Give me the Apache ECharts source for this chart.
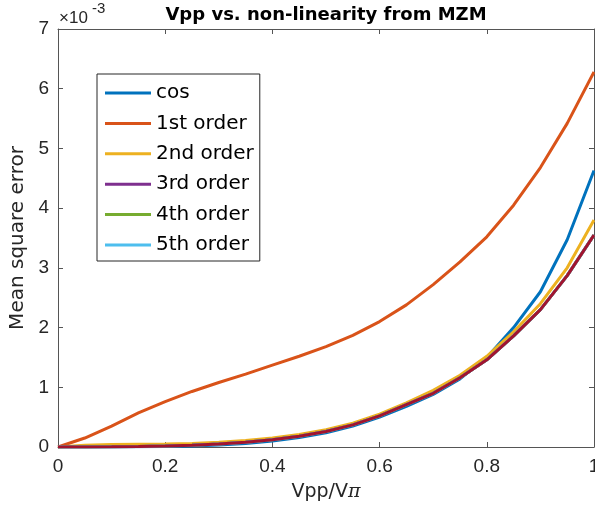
<!DOCTYPE html>
<html>
<head>
<meta charset="utf-8">
<script src="https://cdn.jsdelivr.net/npm/echarts@6/dist/echarts.min.js"></script>
<style>
  html, body { margin: 0; padding: 0; background: #fff; }
  #main { width: 595px; height: 512px; }
</style>
</head>
<body>
<div id="main"></div>
<script>
// Vpp / Vpi sweep
const xs = [0, 0.05, 0.1, 0.15, 0.2, 0.25, 0.3, 0.35, 0.4, 0.45, 0.5,
  0.55, 0.6, 0.65, 0.7, 0.75, 0.8, 0.85, 0.9, 0.95, 1.0];
// mean square error, units of 1e-3
const cosErr = [0, 0, 0.001, 0.003, 0.008, 0.018, 0.035, 0.06, 0.1, 0.16, 0.24,
  0.35, 0.5, 0.68, 0.88, 1.14, 1.5, 2.0, 2.6, 3.47, 4.63];
const order1 = [0, 0.15, 0.35, 0.57, 0.76, 0.93, 1.08, 1.22, 1.37, 1.52, 1.68,
  1.87, 2.1, 2.38, 2.72, 3.1, 3.52, 4.05, 4.68, 5.42, 6.28];
const order2 = [0, 0.03, 0.04, 0.045, 0.05, 0.06, 0.08, 0.11, 0.15, 0.21, 0.29,
  0.4, 0.55, 0.74, 0.95, 1.2, 1.52, 1.93, 2.4, 3.0, 3.8];
const order3 = [0, 0.002, 0.005, 0.01, 0.018, 0.03, 0.05, 0.08, 0.12, 0.18, 0.26,
  0.37, 0.52, 0.71, 0.9, 1.16, 1.46, 1.86, 2.3, 2.87, 3.55];
const order4 = [0, 0.002, 0.005, 0.01, 0.018, 0.03, 0.05, 0.08, 0.12, 0.18, 0.26,
  0.37, 0.52, 0.71, 0.9, 1.16, 1.46, 1.86, 2.3, 2.87, 3.55];
const order5 = [0, 0.002, 0.005, 0.01, 0.018, 0.03, 0.05, 0.08, 0.12, 0.18, 0.26,
  0.37, 0.52, 0.71, 0.9, 1.16, 1.46, 1.86, 2.3, 2.87, 3.55];
const data7 = [0, 0.002, 0.005, 0.01, 0.018, 0.03, 0.05, 0.08, 0.12, 0.18, 0.26,
  0.37, 0.52, 0.71, 0.9, 1.16, 1.46, 1.86, 2.3, 2.87, 3.55];

const names = ['cos', '1st order', '2nd order', '3rd order', '4th order', '5th order'];
const colors = ['#0072BD', '#D95319', '#EDB120', '#7E2F8E', '#77AC30', '#4DBEEE', '#A2142F'];

const FONT = 'Liberation Sans, Arial, sans-serif';
const WIDE = 'DejaVu Sans, sans-serif';
const axisCol = '#262626';
const lineCol = '#555';

function pairs(arr) {
  return xs.map((x, i) => [x, arr[i]]);
}

const allSeries = [cosErr, order1, order2, order3, order4, order5, data7].map((arr, i) => ({
  name: i < 6 ? names[i] : 'data7',
  type: 'line',
  data: pairs(arr),
  symbol: 'none',
  lineStyle: { width: 3, color: colors[i] },
  itemStyle: { color: colors[i] }
}));

// box axes (top / right) only draw frame + inward ticks
function frameAxis(pos, max, interval) {
  return {
    type: 'value',
    position: pos,
    min: 0, max: max, interval: interval,
    axisLine: { show: true, onZero: false, lineStyle: { color: lineCol, width: 1 } },
    axisTick: { show: true, inside: true, length: 5, lineStyle: { color: lineCol } },
    axisLabel: { show: false },
    splitLine: { show: false }
  };
}

const chart = echarts.init(document.getElementById('main'));

chart.setOption({
  backgroundColor: '#fff',
  animation: false,
  grid: { left: 58, right: 1, top: 29, bottom: 65, containLabel: false, outerBoundsMode: 'none' },
  legend: {
    data: names,
    orient: 'vertical',
    left: 97,
    top: 74,
    padding: [9, 6, 6, 8],
    icon: 'rect',
    itemWidth: 46,
    itemHeight: 3,
    itemGap: 10.4,
    backgroundColor: '#fff',
    borderColor: axisCol,
    borderWidth: 1,
    borderRadius: 0,
    textStyle: { fontFamily: WIDE, fontSize: 20, color: '#000' }
  },
  xAxis: [{
    type: 'value',
    min: 0, max: 1, interval: 0.2,
    name: 'Vpp/V{pi|π}',
    nameLocation: 'middle',
    nameGap: 36,
    nameTextStyle: {
      fontFamily: WIDE, fontSize: 19, color: axisCol,
      rich: { pi: { fontFamily: 'DejaVu Serif, serif', fontStyle: 'italic', fontSize: 19, color: axisCol } }
    },
    axisLine: { onZero: false, lineStyle: { color: lineCol, width: 1 } },
    axisTick: { inside: true, length: 5, lineStyle: { color: lineCol } },
    axisLabel: {
      fontFamily: FONT, fontSize: 19, color: axisCol, margin: 10,
      formatter: v => String(Math.round(v * 10) / 10)
    },
    splitLine: { show: false }
  }, frameAxis('top', 1, 0.2)],
  yAxis: [{
    type: 'value',
    min: 0, max: 7, interval: 1,
    name: 'Mean square error',
    nameLocation: 'middle',
    nameGap: 27,
    nameTextStyle: { fontFamily: WIDE, fontSize: 20, color: axisCol },
    axisLine: { show: true, onZero: false, lineStyle: { color: lineCol, width: 1 } },
    axisTick: { show: true, inside: true, length: 5, lineStyle: { color: lineCol } },
    axisLabel: { fontFamily: FONT, fontSize: 19, color: axisCol, margin: 9 },
    splitLine: { show: false }
  }, frameAxis('right', 7, 1)],
  graphic: [{
    type: 'text',
    style: {
      text: 'Vpp vs. non-linearity from MZM',
      x: 326, y: 15,
      textAlign: 'center', textVerticalAlign: 'middle',
      font: 'bold 18px ' + WIDE,
      fill: '#000'
    }
  }, {
    type: 'text',
    style: {
      text: '×10',
      x: 59, y: 18,
      textVerticalAlign: 'middle',
      font: '17px ' + FONT,
      fill: axisCol
    }
  }, {
    type: 'text',
    style: {
      text: '-3',
      x: 92, y: 9,
      textVerticalAlign: 'middle',
      font: '15px ' + FONT,
      fill: axisCol
    }
  }],
  series: allSeries
});
</script>
</body>
</html>
